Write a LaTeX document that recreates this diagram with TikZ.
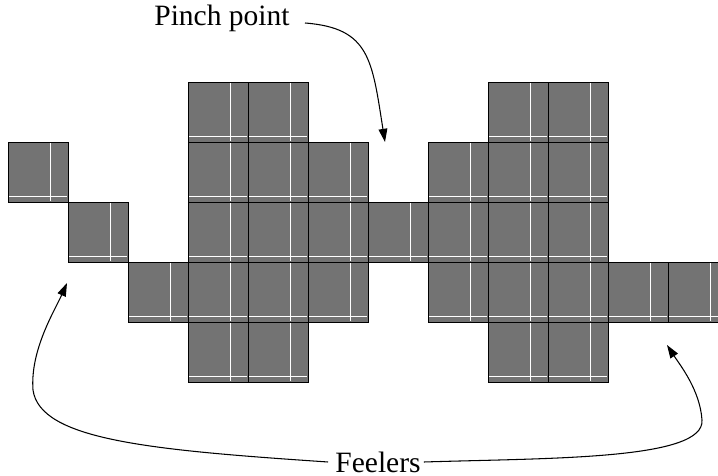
\documentclass[tikz,border=0pt]{standalone}
\usepackage{fontspec}
\setmainfont{Liberation Serif}
\usetikzlibrary{arrows.meta}

\begin{document}
\begin{tikzpicture}[x=0.02cm, y=-0.02cm, >={Triangle[length=7.5pt,width=5pt]},
		cell/.style={draw=black, line width=0.5pt, fill=black!55},
		seam/.style={draw=white, line width=0.35pt},
		feeler/.style={->, line width=0.6pt},
		lbl/.style={font=\fontsize{16.8}{20}\selectfont, inner sep=0pt}]
		
		\useasboundingbox (0,0) rectangle (718,476);
		\clip (0,0) rectangle (718,476);
		
		% Celle (colonna/riga)
		\foreach \c/\r in {0/1, 1/2, 2/3,
				3/0, 3/1, 3/2, 3/3, 3/4,
				4/0, 4/1, 4/2, 4/3, 4/4,
				5/1, 5/2, 5/3, 6/2,
				7/1, 7/2, 7/3,
				8/0, 8/1, 8/2, 8/3, 8/4,
				9/0, 9/1, 9/2, 9/3, 9/4,
				10/3, 11/3}{
			\draw[cell] ({8+60*\c},{82+60*\r}) rectangle ++(60,60);
			\draw[seam] ({8+60*\c+42},{82+60*\r+1}) -- ++(0,58);
			\draw[seam] ({8+60*\c+1},{82+60*\r+54}) -- ++(58,0);
		}
		
		% Etichette
		\node[lbl] (pinch) at (222,18) {Pinch point};
		\node[lbl] (feel) at (378,462) {Feelers};
		
		% Punte delle frecce
		\coordinate (pinchtip) at (385,142);
		\coordinate (lefttip) at (67,283);
		\coordinate (righttip) at (667,345);
		
		% Frecce
		\draw[feeler] ([xshift=0.3cm, yshift=-0.1cm]pinch.east) .. controls (370,28) and (372,60) .. (pinchtip);
		\draw[feeler] ([xshift=-0.14cm]feel.west) .. controls (150,450) and (40,440) .. (33,390)
			.. controls (30,350) and (55,310) .. (lefttip);
		\draw[feeler] ([xshift=0.06cm]feel.east) .. controls (550,458) and (705,460) .. (702,420)
			.. controls (700,390) and (680,365) .. (righttip);
		
	\end{tikzpicture}
\end{document}
